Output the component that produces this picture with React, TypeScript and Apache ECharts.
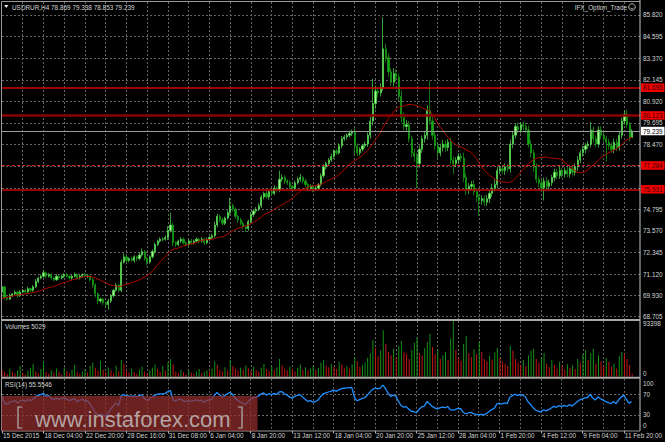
import React, { useEffect, useRef } from 'react';
import * as echarts from 'echarts';

const symbolHeader = 'USDRUR,H4 78.869 79.338 78.853 79.239';
const expertName = 'IFX_Option_Trade';
const volumeTitle = 'Volumes 5029';
const rsiTitle = 'RSI(14) 55.5546';
const watermarkText = 'www.instaforex.com';

const timeLabels = ['15 Dec 2015', '18 Dec 04:00', '22 Dec 20:00', '28 Dec 16:00', '31 Dec 08:00', '6 Jan 04:00', '8 Jan 20:00', '13 Jan 12:00', '18 Jan 04:00', '20 Jan 20:00', '25 Jan 12:00', '28 Jan 04:00', '1 Feb 20:00', '4 Feb 12:00', '9 Feb 04:00', '11 Feb 20:00'];
const priceTicks = [85.82, 84.595, 83.37, 82.145, 80.92, 79.695, 78.47, 77.245, 76.02, 74.795, 73.57, 72.345, 71.12, 69.93, 68.705];
const hiddenPriceTicks = [77.245, 76.02];
const levelValues = [81.695, 80.123, 77.284, 75.931];
const currentPrice = 79.239;
const volumeTicks = [93398, 0];
const rsiTicks = [100, 70, 30, 0];
const rsiLevels = [70, 30];

// closes before the first visible bar (history for MA / RSI)
const priorCloses = [69.3, 69.1, 69.0, 69.2, 69.4, 69.3, 69.6, 69.5, 69.7, 69.9, 69.8, 69.6, 69.7, 70.0, 70.2, 70.1, 69.9, 70.0, 70.2, 70.1];

const closes = [
  70.4, 69.8, 69.7, 69.9, 70.0, 70.1, 69.9, 70.1, 70.2, 70.1,
  70.3, 70.2, 70.4, 70.7, 70.9, 71.0, 71.2, 71.0, 71.1, 70.9,
  70.8, 71.0, 70.9, 71.0, 71.1, 71.0, 70.9, 71.0, 71.1, 70.9,
  71.0, 71.1, 71.0, 71.0, 70.8, 70.5, 70.0, 69.6, 69.7, 69.5,
  69.4, 69.6, 69.9, 70.2, 70.5, 70.2, 71.8, 72.1, 71.9, 72.0,
  71.9, 72.1, 72.0, 72.2, 72.4, 72.0, 71.8, 72.1, 72.4, 72.8,
  73.0, 73.1, 73.1, 73.2, 73.6, 73.9, 72.9, 72.8, 73.0, 73.1,
  72.9, 72.8, 73.0, 72.9, 73.0, 73.1, 73.0, 73.1, 72.9, 73.1,
  73.2, 73.3, 73.9, 74.4, 74.2, 74.0, 74.3, 74.6, 75.0, 74.8,
  74.4, 74.2, 74.0, 73.8, 73.7, 74.1, 74.5, 74.7, 74.8, 75.0,
  75.5, 75.7, 75.5, 75.8, 75.7, 76.0, 75.9, 76.5, 76.6, 76.4,
  76.3, 76.1, 76.0, 76.3, 76.5, 76.6, 76.4, 76.2, 76.0, 76.1,
  75.95, 76.0, 76.2, 76.7, 77.2, 77.4, 77.6, 77.8, 78.1, 78.0,
  78.4, 78.8, 78.9, 79.0, 79.1, 79.2, 78.4, 78.0, 78.2, 78.4,
  78.5, 79.0, 79.8, 80.8, 81.5, 81.4, 81.7, 83.9, 83.4, 82.6,
  82.0, 82.5, 82.3, 81.2, 80.0, 79.5, 79.6, 78.8, 78.0, 77.8,
  77.4, 78.2, 78.8, 79.0, 80.4, 79.8, 79.0, 78.4, 78.0, 78.3,
  78.5, 78.3, 78.6, 77.6, 77.4, 77.6, 77.8, 77.7, 76.6, 75.9,
  76.1, 76.2, 75.8, 75.5, 75.3, 75.4, 75.2, 75.4, 75.7, 76.0,
  76.2, 77.0, 77.1, 77.0, 77.2, 77.1, 78.5, 79.0, 79.5, 79.3,
  79.6, 79.5, 79.3, 78.5, 78.0, 77.2, 76.5, 76.3, 76.0, 76.4,
  76.1, 76.3, 76.6, 76.9, 76.7, 77.0, 76.8, 77.0, 76.8, 77.1,
  76.9, 77.2, 77.6, 78.0, 78.2, 78.4, 78.5, 79.3, 78.8, 78.5,
  79.3, 79.0, 78.8, 78.6, 78.4, 78.2, 78.6, 78.3, 79.0, 79.8,
  80.2, 79.6, 78.869, 79.239,
];

// upper wick above the body, in hundredths
const wickUp = [
  10, 6, 8, 12, 5, 9, 7, 11, 6, 8, 10, 5, 9, 14, 8, 10, 15, 7, 9, 6,
  8, 12, 6, 9, 7, 10, 5, 8, 11, 6, 9, 7, 10, 8, 6, 12, 9, 7, 10, 8,
  6, 11, 9, 8, 12, 7, 15, 20, 10, 8, 12, 9, 7, 14, 18, 8, 10, 9, 12, 10,
  8, 11, 9, 10, 25, 70, 15, 9, 8, 12, 10, 7, 9, 11, 8, 10, 9, 12, 8, 10,
  9, 12, 20, 15, 10, 12, 9, 14, 45, 12, 10, 8, 11, 9, 12, 10, 14, 9, 12, 15,
  12, 10, 14, 9, 12, 15, 10, 50, 18, 12, 10, 14, 9, 12, 15, 20, 10, 12, 9, 11,
  10, 12, 9, 14, 16, 10, 12, 15, 10, 12, 14, 16, 12, 10, 15, 12, 18, 14, 12, 10,
  14, 16, 25, 140, 30, 20, 25, 180, 30, 25, 20, 30, 25, 20, 35, 30, 25, 20, 18, 25,
  20, 22, 18, 25, 30, 170, 25, 20, 18, 22, 25, 20, 18, 25, 20, 15, 18, 20, 30, 22,
  18, 20, 25, 18, 15, 20, 18, 22, 20, 25, 30, 20, 18, 22, 20, 18, 25, 20, 18, 22,
  15, 18, 20, 25, 22, 18, 20, 15, 18, 20, 22, 18, 15, 20, 18, 22, 15, 18, 20, 15,
  18, 20, 22, 18, 20, 15, 18, 45, 20, 18, 22, 20, 18, 15, 20, 18, 22, 20, 18, 20,
  20, 25, 15, 9.9,
];

// lower wick below the body, in hundredths
const wickDn = [
  8, 12, 10, 6, 9, 7, 11, 8, 6, 10, 7, 9, 8, 6, 10, 8, 9, 12, 7, 10,
  9, 6, 11, 8, 10, 7, 9, 12, 6, 10, 8, 9, 7, 11, 10, 15, 20, 18, 12, 15,
  18, 30, 12, 10, 8, 12, 10, 9, 14, 10, 8, 12, 15, 9, 10, 12, 18, 10, 9, 12,
  10, 8, 12, 9, 15, 12, 20, 14, 10, 12, 9, 11, 8, 12, 10, 9, 14, 10, 12, 9,
  11, 10, 12, 14, 15, 12, 10, 9, 15, 12, 14, 16, 12, 15, 20, 12, 10, 14, 12, 10,
  12, 14, 10, 15, 12, 10, 14, 12, 15, 18, 12, 15, 14, 12, 10, 15, 12, 14, 16, 12,
  18, 12, 14, 10, 12, 14, 10, 12, 15, 12, 10, 14, 12, 15, 12, 14, 50, 18, 15, 12,
  14, 16, 20, 25, 30, 25, 20, 18, 25, 30, 22, 25, 20, 25, 30, 22, 25, 20, 25, 30,
  140, 25, 20, 22, 25, 20, 25, 22, 30, 20, 22, 25, 20, 25, 60, 20, 18, 22, 25, 30,
  25, 20, 22, 30, 90, 25, 20, 22, 25, 20, 18, 22, 20, 18, 25, 20, 22, 25, 20, 18,
  20, 22, 18, 20, 25, 30, 22, 25, 20, 70, 22, 20, 18, 22, 20, 18, 22, 20, 18, 20,
  18, 20, 22, 18, 20, 22, 18, 20, 22, 18, 20, 22, 18, 110, 20, 18, 22, 20, 18, 20,
  20, 18, 22, 1.6,
];

// tick volumes, thousands
const volumesK = [
  12, 8, 5, 14, 9, 6, 11, 18, 7, 4, 10, 15, 22, 9, 6, 13, 25, 8, 5, 11,
  7, 14, 9, 4, 16, 10, 6, 12, 20, 8, 5, 9, 13, 7, 18, 24, 15, 10, 27, 12,
  8, 16, 11, 6, 19, 9, 28, 22, 10, 7, 14, 8, 5, 12, 17, 9, 6, 11, 15, 20,
  13, 8, 18, 10, 24, 30, 21, 9, 6, 12, 8, 4, 10, 7, 5, 9, 13, 6, 8, 11,
  9, 14, 26, 20, 12, 9, 16, 11, 28, 18, 13, 10, 15, 12, 19, 14, 10, 17, 12, 9,
  15, 22, 13, 10, 18, 12, 16, 30, 19, 14, 11, 17, 13, 9, 15, 20, 12, 16, 11, 14,
  18, 12, 15, 24, 28, 19, 16, 22, 17, 13, 25, 20, 15, 18, 14, 21, 33, 26, 17, 20,
  24, 32, 40, 62, 48, 35, 44, 78, 55, 42, 36, 47, 33, 52, 60, 41, 38, 30, 45, 57,
  66, 40, 35, 48, 58, 72, 50, 38, 44, 30, 36, 42, 28, 64, 93.398, 45, 32, 27, 55, 68,
  40, 33, 46, 38, 58, 42, 30, 26, 35, 29, 41, 48, 32, 25, 22, 18, 52, 44, 30, 24,
  20, 28, 18, 36, 44, 47, 30, 24, 33, 40, 22, 16, 28, 20, 14, 25, 18, 12, 21, 15,
  19, 13, 30, 24, 38, 45, 28, 40, 47, 22, 36, 26, 18, 31, 25, 17, 22, 14, 35, 42,
  38, 30, 20, 5.029,
];

const MA_PERIOD = 20;
const RSI_PERIOD = 14;
const RIGHT_SHIFT_BARS = 3;

const FONT = 'Liberation Sans';
const TXT = '#d4d4d4';

function sma(values: number[], period: number): number[] {
  const out: number[] = [];
  for (let i = 0; i < values.length; i++) {
    if (i < period - 1) { out.push(NaN); continue; }
    let s = 0;
    for (let k = i - period + 1; k <= i; k++) s += values[k];
    out.push(s / period);
  }
  return out;
}

function wilderRsi(values: number[], period: number): number[] {
  const out: number[] = [NaN];
  let ag = 0, al = 0;
  for (let i = 1; i < values.length; i++) {
    const ch = values[i] - values[i - 1];
    const g = Math.max(ch, 0), l = Math.max(-ch, 0);
    if (i <= period) { ag += g / period; al += l / period; }
    else { ag = (ag * (period - 1) + g) / period; al = (al * (period - 1) + l) / period; }
    out.push(i >= period ? (al === 0 ? 100 : 100 - 100 / (1 + ag / al)) : NaN);
  }
  return out;
}

function buildOption() {
  const n = closes.length;
  const cats = Array.from({ length: n + RIGHT_SHIFT_BARS }, (_, i) => String(i));
  const candles = closes.map((c, i) => {
    const o = i === 0 ? priorCloses[priorCloses.length - 1] : closes[i - 1];
    const hi = Math.max(o, c) + wickUp[i] / 100;
    const lo = Math.min(o, c) - wickDn[i] / 100;
    return [o, c, +lo.toFixed(3), +hi.toFixed(3)];
  });
  const all = [...priorCloses, ...closes];
  const off = priorCloses.length;
  const ma = sma(all, MA_PERIOD).slice(off).map((v) => +v.toFixed(4));
  const rsi = wilderRsi(all, RSI_PERIOD).slice(off).map((v) => +v.toFixed(3));
  const vols = volumesK.map((v) => Math.round(v * 1000));
  const volColors = vols.map((v, i) => (i > 0 && v > vols[i - 1] ? '#16901a' : '#c41616'));

  const gridL = 2, gridR = 25;
  const slope = 17.628;
  const yMax = 85.82 + 13 / slope;
  const yMin = 68.705 - 2.3 / slope;

  const splitV = {
    show: true,
    interval: (i: number) => i > 0 && i % 8 === 0,
    lineStyle: { color: '#646464', type: [2, 2], width: 1 },
  };
  const xAxis = [0, 1, 2].map((gi) => ({
    type: 'category',
    gridIndex: gi,
    data: cats,
    boundaryGap: false,
    axisLine: { show: false },
    axisTick: gi === 2
      ? { show: true, interval: (i: number) => i % 16 === 0, length: 3, lineStyle: { color: '#b0b0b0' } }
      : { show: false },
    axisLabel: gi === 2
      ? {
          show: true,
          interval: (i: number) => i % 16 === 0,
          formatter: (_v: string, i: number) => timeLabels[i / 16] ?? '',
          align: 'left',
          margin: 2,
          padding: [0, 0, 0, 1],
          color: TXT,
          fontSize: 6.4,
          fontFamily: FONT,
        }
      : { show: false },
    splitLine: splitV,
  }));

  const hiddenY = { axisLine: { show: false }, axisLabel: { show: false }, axisTick: { show: false }, splitLine: { show: false } };
  const yAxis = [
    { type: 'value', gridIndex: 0, min: yMin, max: yMax, position: 'right', ...hiddenY },
    { type: 'value', gridIndex: 1, min: 0, max: volumeTicks[0], position: 'right', ...hiddenY },
    { type: 'value', gridIndex: 2, min: 0, max: 100, position: 'right', ...hiddenY },
  ];

  const lvlStyles = [
    { color: '#d00000', width: 1.5, type: 'solid' },
    { color: '#8c0000', width: 2.5, type: 'solid' },
    { color: '#d42020', width: 1, type: [3, 2] },
    { color: '#c80000', width: 1.5, type: 'solid' },
  ];
  const boxLabel = (bg: string, fg: string) => ({
    show: true,
    position: 'end',
    distance: 1,
    formatter: (p: any) => Number(p.value).toFixed(3),
    backgroundColor: bg,
    color: fg,
    fontSize: 6.4,
    fontFamily: FONT,
    padding: [1.5, 2, 1, 2],
  });

  return {
    animation: false,
    backgroundColor: '#000000',
    grid: [
      { left: gridL, right: gridR, top: 2, height: 317 },
      { left: gridL, right: gridR, top: 321, height: 55.8 },
      { left: gridL, right: gridR, top: 378.8, height: 51.7 },
    ],
    xAxis,
    yAxis,
    series: [
      {
        type: 'candlestick',
        xAxisIndex: 0,
        yAxisIndex: 0,
        data: candles,
        barWidth: 1.7,
        z: 3,
        silent: true,
        itemStyle: {
          color: '#a8ff90',
          borderColor: '#4fdc4f',
          color0: '#17a517',
          borderColor0: '#17a517',
          borderWidth: 0.7,
        },
        markLine: {
          silent: true,
          symbol: 'none',
          precision: 3,
          z: 1,
          animation: false,
          lineStyle: { color: '#626262', type: [2, 2], width: 1 },
          label: {
            show: true,
            position: 'end',
            distance: 3,
            formatter: (p: any) => Number(p.value).toFixed(3),
            color: TXT,
            fontSize: 6.4,
            fontFamily: FONT,
          },
          emphasis: { disabled: true },
          data: priceTicks.map((v) => (hiddenPriceTicks.includes(v) ? { yAxis: v, label: { show: false } } : { yAxis: v })),
        },
      },
      {
        type: 'line',
        xAxisIndex: 0,
        yAxisIndex: 0,
        data: ma,
        symbol: 'none',
        silent: true,
        z: 4,
        lineStyle: { color: '#b40000', width: 1 },
        markLine: {
          silent: true,
          symbol: 'none',
          precision: 3,
          z: 5,
          animation: false,
          emphasis: { disabled: true },
          data: [
            ...levelValues.map((v, i) => ({
              yAxis: v,
              lineStyle: lvlStyles[i],
              label: boxLabel('#f00000', '#3a0000'),
            })),
            {
              yAxis: currentPrice,
              lineStyle: { color: '#9a9a9a', width: 1, type: 'solid' },
              label: boxLabel('#ffffff', '#000000'),
            },
          ],
        },
      },
      {
        type: 'bar',
        xAxisIndex: 1,
        yAxisIndex: 1,
        data: vols,
        barWidth: 1,
        silent: true,
        itemStyle: { color: (p: any) => volColors[p.dataIndex] },
      },
      {
        type: 'line',
        xAxisIndex: 2,
        yAxisIndex: 2,
        data: rsi,
        symbol: 'none',
        silent: true,
        z: 3,
        lineStyle: { color: '#1e90ff', width: 1.3 },
        markLine: {
          silent: true,
          symbol: 'none',
          z: 1,
          animation: false,
          label: { show: false },
          emphasis: { disabled: true },
          lineStyle: { color: '#6a6a6a', type: [2, 2], width: 1 },
          data: rsiLevels.map((v) => ({ yAxis: v })),
        },
      },
    ],
  };
}

function buildGraphic(chart: echarts.ECharts) {
  const g: any[] = [];
  const Z = 100;
  const txt = (text: string, x: number, y: number, align = 'left', size = 6.4) => ({
    type: 'text', x, y, z: Z + 2, silent: true,
    style: { text, fill: TXT, fontSize: size, fontFamily: FONT, align, verticalAlign: 'middle' },
  });
  const line = (x1: number, y1: number, x2: number, y2: number, stroke: string, w: number) => ({
    type: 'line', z: Z, silent: true, shape: { x1, y1, x2, y2 }, style: { stroke, lineWidth: w },
  });

  // frame and pane separators
  g.push(line(1.5, 1.5, 640, 1.5, '#9a9a9a', 1));
  g.push(line(1.5, 1.5, 1.5, 431, '#9a9a9a', 1));
  g.push(line(640, 0, 640, 431, '#c8c8c8', 1));
  g.push(line(1.5, 320, 640, 320, '#a8a8a8', 2));
  g.push(line(1.5, 377.8, 640, 377.8, '#a8a8a8', 2));
  g.push(line(1.5, 431, 640, 431, '#9a9a9a', 1));

  // header
  g.push({ type: 'polygon', z: Z + 2, silent: true, shape: { points: [[4, 5], [8.5, 5], [6.25, 8]] }, style: { fill: '#e0e0e0' } });
  g.push(txt(symbolHeader, 12, 7));
  g.push(txt(expertName, 627, 7, 'right'));
  g.push({ type: 'circle', z: Z + 2, silent: true, shape: { cx: 632, cy: 7, r: 3.3 }, style: { fill: 'none', stroke: '#d8d8d8', lineWidth: 0.8 } });
  g.push({ type: 'arc', z: Z + 2, silent: true, shape: { cx: 632, cy: 7, r: 1.8, startAngle: 0.35, endAngle: Math.PI - 0.35 }, style: { fill: 'none', stroke: '#d8d8d8', lineWidth: 0.7 } });
  g.push({ type: 'circle', z: Z + 2, silent: true, shape: { cx: 630.9, cy: 6, r: 0.5 }, style: { fill: '#d8d8d8' } });
  g.push({ type: 'circle', z: Z + 2, silent: true, shape: { cx: 633.1, cy: 6, r: 0.5 }, style: { fill: '#d8d8d8' } });

  // sub-window titles
  g.push(txt(volumeTitle, 5, 326));
  g.push(txt(rsiTitle, 5, 384));

  // volume and RSI scale labels, placed through the axes
  volumeTicks.forEach((v, i) => {
    let y = chart.convertToPixel({ yAxisIndex: 1 }, v) as number;
    y += i === 0 ? 2.5 : -3.5;
    g.push(txt(String(v), 643, y));
  });
  rsiTicks.forEach((v) => {
    let y = chart.convertToPixel({ yAxisIndex: 2 }, v) as number;
    if (v === 100) y += 4.5;
    if (v === 0) y -= 4.8;
    g.push(txt(String(v), 643, y));
  });

  // watermark
  g.push({ type: 'rect', z: Z + 1, silent: true, shape: { x: 1.5, y: 396, width: 256, height: 35 }, style: { fill: 'rgba(150,46,46,0.72)' } });
  g.push({ type: 'polyline', z: Z + 2, silent: true, shape: { points: [[22, 407], [18, 407], [18, 428], [22, 428]] }, style: { stroke: '#b4b4b4', lineWidth: 1.2, fill: 'none' } });
  g.push({ type: 'polyline', z: Z + 2, silent: true, shape: { points: [[238, 407], [242, 407], [242, 428], [238, 428]] }, style: { stroke: '#b4b4b4', lineWidth: 1.2, fill: 'none' } });
  g.push({
    type: 'text', x: 35, y: 419, z: Z + 2, silent: true,
    style: { text: watermarkText, fill: 'rgba(200,200,200,0.78)', fontSize: 22, fontFamily: FONT, align: 'left', verticalAlign: 'middle' },
  });
  return g;
}

export default function App() {
  const ref = useRef<HTMLDivElement>(null);
  useEffect(() => {
    document.body.style.margin = '0';
    document.body.style.background = '#000';
    const chart = echarts.init(ref.current as HTMLDivElement, null, { renderer: 'svg' });
    chart.setOption(buildOption() as any);
    chart.setOption({ graphic: buildGraphic(chart) } as any);
    return () => chart.dispose();
  }, []);
  return <div ref={ref} style={{ width: 665, height: 442, background: '#000' }} />;
}
